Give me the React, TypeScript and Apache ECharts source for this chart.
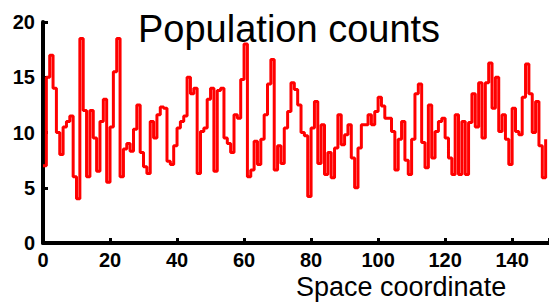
import React, { useEffect, useRef } from "react";
import * as echarts from "echarts";

const titleText = "Population counts";
const xAxisName = "Space coordinate";
const xTicks = [0, 20, 40, 60, 80, 100, 120, 140];
const yTicks = [0, 5, 10, 15, 20];

// population count at each space coordinate 0..150
const counts = [
  7, 15, 17, 14, 10, 8, 10.5, 11, 11.5, 6,
  4, 18.5, 12, 6, 12, 9.5, 6.5, 11, 13, 5.5,
  10.5, 15.5, 18.5, 6, 8.5, 9, 8.3, 10.3, 12.5, 8.2,
  6.9, 6.3, 11, 9.5, 11.6, 12.3, 12.2, 7.4, 7.1, 8.8,
  10.4, 11, 11.5, 15, 13.5, 14, 6.3, 10.1, 10.4, 13,
  14, 6.5, 13.8, 14, 9.5, 9, 8.2, 11.6, 11.3, 14.8,
  18, 6, 6.6, 9.2, 7.1, 9.4, 11.6, 14.4, 16.6, 6.6,
  8.8, 7.2, 10.4, 11.9, 14.5, 13.9, 12.5, 10, 9.7, 4.2,
  10.4, 12.8, 7.2, 10.7, 6.2, 8.2, 5.9, 8.6, 11.6, 8.9,
  9.8, 10.7, 7.7, 5, 8.6, 10.7, 10.7, 11.6, 10.7, 11.9,
  13.2, 12.4, 11.3, 11.3, 10.1, 6.6, 9.4, 11, 7.5, 6.2,
  9.4, 13.5, 14.4, 9.1, 6.8, 12.5, 7.7, 10.1, 11, 11.3,
  9.5, 7.7, 6.2, 11.6, 6.2, 11, 6.2, 10.9, 13.5, 10.5,
  14.5, 9.5, 14.5, 16.3, 12.2, 15, 10.1, 11.6, 9.4, 7.1,
  12.2, 10.1, 9.8, 13.2, 16.2, 13.5, 10, 12.8, 8.8, 5.9,
  9.4,
];

export default function App() {
  const ref = useRef<HTMLDivElement>(null);
  useEffect(() => {
    if (!ref.current) return;
    const chart = echarts.init(ref.current, null, { renderer: "svg" });
    const font = "Liberation Sans";
    chart.setOption({
      animation: false,
      backgroundColor: "#ffffff",
      title: {
        text: titleText,
        left: 138,
        top: 10,
        padding: 0,
        textStyle: { fontFamily: font, fontSize: 38, fontWeight: "normal", color: "#000" },
      },
      grid: { left: 43, right: 0, top: 22, bottom: 60 },
      xAxis: {
        type: "value",
        min: 0,
        max: 151,
        interval: 20,
        splitLine: { show: false },
        axisLine: { show: true, lineStyle: { color: "#000", width: 4 } },
        axisTick: { show: true, inside: true, length: 5, lineStyle: { color: "#000", width: 3 } },
        axisLabel: {
          margin: 7,
          fontFamily: font,
          fontSize: 20,
          fontWeight: "bold",
          color: "#000",
          customValues: xTicks,
        },
      },
      yAxis: {
        type: "value",
        min: 0,
        max: 20,
        interval: 5,
        splitLine: { show: false },
        axisLine: { show: true, lineStyle: { color: "#000", width: 4 } },
        axisTick: { show: true, inside: true, length: 5, lineStyle: { color: "#000", width: 3 } },
        axisLabel: {
          margin: 8,
          fontFamily: font,
          fontSize: 20,
          fontWeight: "bold",
          color: "#000",
        },
      },
      graphic: [
        {
          type: "text",
          x: 296,
          y: 273,
          style: {
            text: xAxisName,
            fontFamily: font,
            fontSize: 27,
            fill: "#000",
            verticalAlign: "top",
            align: "left",
          },
        },
      ],
      series: [
        {
          type: "line",
          step: "end",
          showSymbol: false,
          symbol: "none",
          lineStyle: { color: "#ff0000", width: 3 },
          data: counts.map((v, i) => [i, v]),
        },
      ],
    });
    return () => chart.dispose();
  }, []);
  return <div ref={ref} style={{ width: 549, height: 303, position: "absolute", left: 0, top: 0 }} />;
}
